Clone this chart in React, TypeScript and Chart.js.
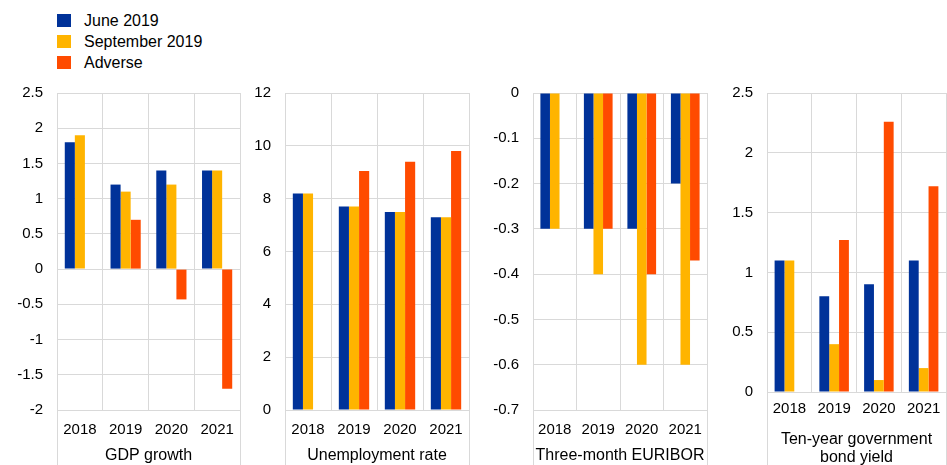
import React, { useEffect, useRef } from 'react';
import { Chart, registerables } from 'chart.js';

Chart.register(...registerables);

const years = ['2018', '2019', '2020', '2021'];
const seriesNames = ['June 2019', 'September 2019', 'Adverse'];
const seriesColors = ['#003299', '#FFB400', '#FF4B00'];

const gdpJune = [1.8, 1.2, 1.4, 1.4];
const gdpSeptember = [1.9, 1.1, 1.2, 1.4];
const gdpAdverse = [null, 0.7, -0.43, -1.7];

const unempJune = [8.2, 7.7, 7.5, 7.3];
const unempSeptember = [8.2, 7.7, 7.5, 7.3];
const unempAdverse = [null, 9.05, 9.4, 9.8];

const euriborJune = [-0.3, -0.3, -0.3, -0.2];
const euriborSeptember = [-0.3, -0.4, -0.6, -0.6];
const euriborAdverse = [null, -0.3, -0.4, -0.37];

const bondJune = [1.1, 0.8, 0.9, 1.1];
const bondSeptember = [1.1, 0.4, 0.1, 0.2];
const bondAdverse = [null, 1.27, 2.26, 1.72];

const gdpAxis = [-2, 2.5, 0.5];
const unempAxis = [0, 12, 2];
const euriborAxis = [-0.7, 0, 0.1];
const bondAxis = [0, 2.5, 0.5];

const panelTitles: (string | string[])[] = [
  'GDP growth',
  'Unemployment rate',
  'Three-month EURIBOR',
  ['Ten-year government', 'bond yield'],
];

const FONT = '"Liberation Sans", Arial, sans-serif';
const GRID = '#d9d9d9';

type Panel = {
  title: string | string[];
  series: (number | null)[][];
  axis: number[];
  left: number;
  width: number;
  axisW: number;
  padRight: number;
  xHeight: number;
  tickGap: number;
  titlePad: number;
};

const panels: Panel[] = [
  { title: panelTitles[0], series: [gdpJune, gdpSeptember, gdpAdverse], axis: gdpAxis, left: 0, width: 245, axisW: 57, padRight: 5, xHeight: 55, tickGap: 11, titlePad: 0 },
  { title: panelTitles[1], series: [unempJune, unempSeptember, unempAdverse], axis: unempAxis, left: 245, width: 230, axisW: 40, padRight: 6, xHeight: 55, tickGap: 11, titlePad: 0 },
  { title: panelTitles[2], series: [euriborJune, euriborSeptember, euriborAdverse], axis: euriborAxis, left: 475, width: 237, axisW: 58, padRight: 5, xHeight: 55, tickGap: 11, titlePad: 0 },
  { title: panelTitles[3], series: [bondJune, bondSeptember, bondAdverse], axis: bondAxis, left: 712, width: 235, axisW: 55, padRight: 1, xHeight: 73, tickGap: 8, titlePad: -2 },
];

function fmt(v: number | string) {
  const n = Math.round(Number(v) * 100) / 100;
  return String(n === 0 ? 0 : n);
}

function PanelChart({ p }: { p: Panel }) {
  const ref = useRef<HTMLCanvasElement | null>(null);
  useEffect(() => {
    if (!ref.current) return;
    const chart = new Chart(ref.current, {
      type: 'bar',
      data: {
        labels: years,
        datasets: p.series.map((d, i) => ({
          label: seriesNames[i],
          data: d as any,
          backgroundColor: seriesColors[i],
          borderWidth: 0,
          categoryPercentage: 0.66,
          barPercentage: 1,
        })),
      },
      options: {
        animation: false,
        responsive: false,
        maintainAspectRatio: false,
        layout: { padding: { top: 13, right: p.padRight, bottom: 0, left: 0 } },
        plugins: { legend: { display: false }, tooltip: { enabled: false } },
        scales: {
          x: {
            grid: {
              offset: true,
              color: GRID,
              lineWidth: 1,
              drawTicks: true,
              tickLength: p.xHeight,
              tickWidth: 1,
              tickColor: (c: any) => (c.type === 'scale' || c.index === 0 ? GRID : 'rgba(0,0,0,0)'),
            },
            border: { display: true, color: GRID },
            ticks: {
              padding: p.tickGap - p.xHeight,
              color: '#000',
              font: { family: FONT, size: 15 },
              maxRotation: 0,
            },
            title: {
              display: true,
              text: p.title,
              color: '#000',
              font: { family: FONT, size: 16, lineHeight: 1.15 },
              padding: { top: 0, bottom: p.titlePad },
            },
            afterFit: (s: any) => {
              s.height = p.xHeight;
            },
          },
          y: {
            min: p.axis[0],
            max: p.axis[1],
            ticks: {
              stepSize: p.axis[2],
              padding: 14,
              color: '#000',
              font: { family: FONT, size: 15 },
              callback: (v: any) => fmt(v),
            },
            grid: { color: GRID, drawTicks: false, lineWidth: 1 },
            border: { display: true, color: GRID },
            afterFit: (s: any) => {
              s.width = p.axisW;
              s.paddingTop = 0;
              s.paddingBottom = 0;
            },
          },
        },
      } as any,
    });
    return () => chart.destroy();
  }, [p]);
  return (
    <canvas
      ref={ref}
      width={p.width}
      height={385}
      style={{ position: 'absolute', left: p.left, top: 80, width: p.width, height: 385 }}
    />
  );
}

export default function App() {
  return (
    <div style={{ position: 'fixed', left: 0, top: 0, width: 947, height: 465, background: '#fff', overflow: 'hidden', fontFamily: FONT }}>
      {seriesNames.map((name, i) => (
        <div
          key={name}
          style={{ position: 'absolute', left: 57, top: 14 + i * 21, height: 13, display: 'flex', alignItems: 'center' }}
        >
          <div style={{ width: 14, height: 13, background: seriesColors[i] }} />
          <div style={{ marginLeft: 13, fontSize: 16, lineHeight: '13px', color: '#000', whiteSpace: 'nowrap' }}>{name}</div>
        </div>
      ))}
      {panels.map((p, i) => (
        <PanelChart key={i} p={p} />
      ))}
    </div>
  );
}
